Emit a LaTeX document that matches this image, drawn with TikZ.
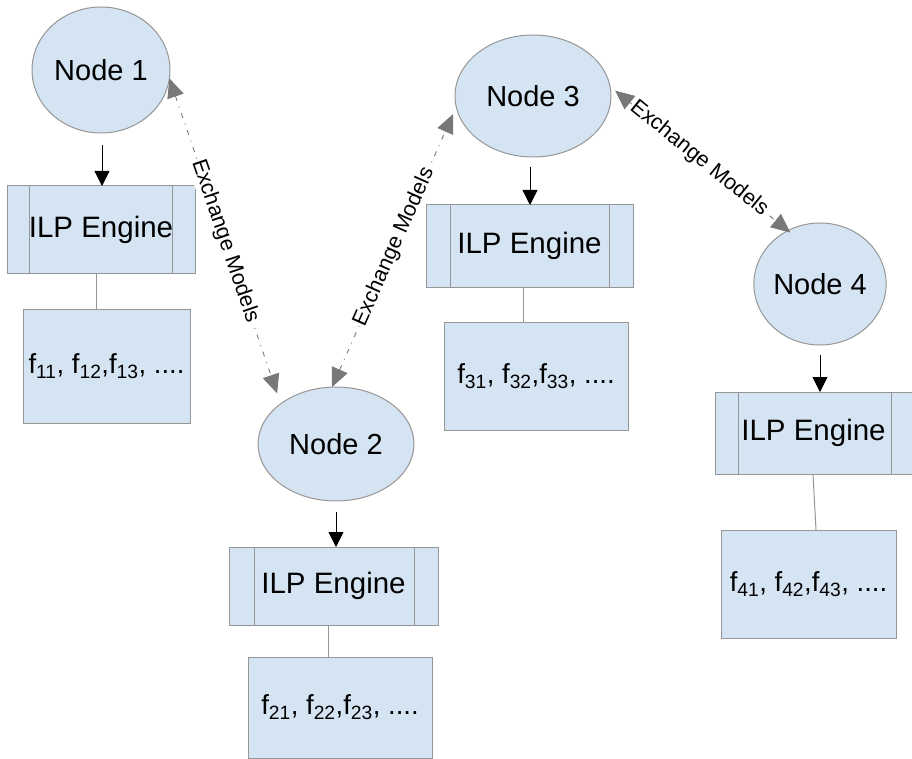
\documentclass[tikz,border=0pt]{standalone}
\usepackage{fontspec}
\setmainfont{Liberation Sans}
\usetikzlibrary{shapes.geometric,arrows.meta,calc}
\definecolor{boxfill}{RGB}{213,228,243}
\definecolor{boxline}{RGB}{150,150,150}
\definecolor{exgray}{RGB}{120,120,120}
\begin{document}
\begin{tikzpicture}[x=1pt,y=-1pt,
  nodeell/.style={ellipse, draw=boxline, fill=boxfill, line width=1pt, inner sep=0pt, outer sep=0pt,
    font=\fontsize{29}{34}\selectfont},
  enginebox/.style={rectangle, draw=boxline, fill=boxfill, line width=1pt, inner sep=0pt, outer sep=0pt,
    font=\fontsize{29.5}{34}\selectfont},
  featbox/.style={rectangle, draw=boxline, fill=boxfill, line width=1pt, inner sep=0pt, outer sep=0pt,
    font=\fontsize{27.5}{34}\selectfont},
  divider/.style={draw=boxline, line width=1pt},
  downarr/.style={draw=black, line width=0.8pt, -{Triangle[width=15pt,length=15pt]}},
  link/.style={draw=boxline, line width=1pt},
  exch/.style={draw=exgray, line width=0.9pt, dash pattern=on 5pt off 6pt on 1pt off 6pt,
    {Triangle[width=17pt,length=19pt]}-{Triangle[width=17pt,length=19pt]}},
  exlabel/.style={font=\fontsize{21.5}{26}\selectfont, fill=white, inner sep=1pt, sloped}
]
\useasboundingbox (0,0) rectangle (912,759);

% Nodes
\node[nodeell, minimum width=138pt, minimum height=126pt] (n1) at (101,70) {Node 1};
\node[nodeell, minimum width=156pt, minimum height=114pt] (n2) at (336,444) {Node 2};
\node[nodeell, minimum width=156pt, minimum height=122pt] (n3) at (533,96) {Node 3};
\node[nodeell, minimum width=130pt, minimum height=122pt] (n4) at (820,284) {Node 4};

% ILP engines
\node[enginebox, minimum width=188pt, minimum height=87pt] (e1) at (101,229.5) {ILP Engine};
\node[enginebox, minimum width=209pt, minimum height=78pt] (e2) at (333.5,586) {ILP Engine};
\node[enginebox, minimum width=207pt, minimum height=82pt] (e3) at (529.5,246) {ILP Engine};
\node[enginebox, minimum width=197pt, minimum height=82pt] (e4) at (813.5,433) {ILP Engine};

\draw[divider] ($(e1.north west)+(22,0)$) -- ($(e1.south west)+(22,0)$);
\draw[divider] ($(e1.north east)+(-23,0)$) -- ($(e1.south east)+(-23,0)$);
\draw[divider] ($(e2.north west)+(25,0)$) -- ($(e2.south west)+(25,0)$);
\draw[divider] ($(e2.north east)+(-24,0)$) -- ($(e2.south east)+(-24,0)$);
\draw[divider] ($(e3.north west)+(24,0)$) -- ($(e3.south west)+(24,0)$);
\draw[divider] ($(e3.north east)+(-24,0)$) -- ($(e3.south east)+(-24,0)$);
\draw[divider] ($(e4.north west)+(23,0)$) -- ($(e4.south west)+(23,0)$);
\draw[divider] ($(e4.north east)+(-21,0)$) -- ($(e4.south east)+(-21,0)$);

% feature boxes
\node[featbox, minimum width=167pt, minimum height=114pt] (f1) at (106.5,366) {f\textsubscript{11}, f\textsubscript{12},f\textsubscript{13}, ....};
\node[featbox, minimum width=184pt, minimum height=101pt] (f2) at (340,707.5) {f\textsubscript{21}, f\textsubscript{22},f\textsubscript{23}, ....};
\node[featbox, minimum width=184pt, minimum height=108pt] (f3) at (536,376) {f\textsubscript{31}, f\textsubscript{32},f\textsubscript{33}, ....};
\node[featbox, minimum width=175pt, minimum height=108pt] (f4) at (808.5,584) {f\textsubscript{41}, f\textsubscript{42},f\textsubscript{43}, ....};

% node -> engine arrows
\draw[downarr, shorten <=12pt] ($(n1.south)+(1,0)$) -- ($(n1.south |- e1.north)+(1,0)$);
\draw[downarr, shorten <=11pt] (n2.south) -- (n2.south |- e2.north);
\draw[downarr, shorten <=10pt] ($(n3.south)+(-3,0)$) -- ($(n3.south |- e3.north)+(-3,0)$);
\draw[downarr, shorten <=10pt] (n4.south) -- (n4.south |- e4.north);

% engine -- feature links
\draw[link] ($(e1.south)+(-5,0)$) -- ($(f1.north)+(-10.5,0)$);
\draw[link] ($(e2.south)+(-5.5,0)$) -- ($(f2.north)+(-12,0)$);
\draw[link] ($(e3.south)+(-6.5,0)$) -- ($(f3.north)+(-13,0)$);
\draw[link] ($(e4.south)+(-0.5,0)$) -- ($(f4.north)+(7.5,0)$);

% exchange connectors
\draw[exch, shorten >=11pt] (n1.-7) -- node[exlabel] {Exchange Models} (n2.144);
\draw[exch, shorten >=8pt] (n2.94) -- node[exlabel] {Exchange Models} (n3.188.5);
\draw[exch, shorten <=6.6pt, shorten >=-3pt] (n3.7.6) -- node[exlabel] {Exchange Models} (n4.121.4);
\end{tikzpicture}
\end{document}
